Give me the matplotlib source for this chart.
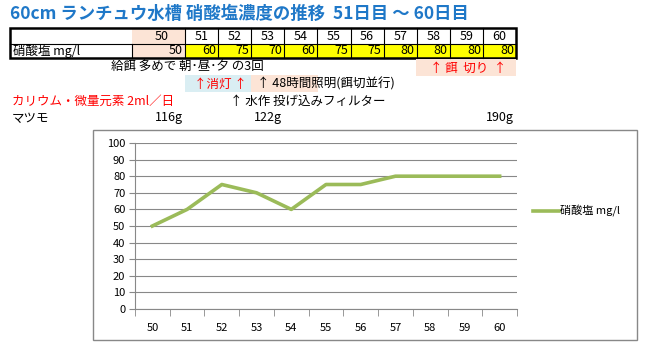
import matplotlib.pyplot as plt
from matplotlib.patches import Rectangle
from matplotlib.lines import Line2D

plt.rcParams['font.family'] = ['Noto Sans CJK JP', 'DejaVu Sans']

# data
days = [50, 51, 52, 53, 54, 55, 56, 57, 58, 59, 60]
nitrate = [50, 60, 75, 70, 60, 75, 75, 80, 80, 80, 80]
series_name = '硝酸塩 mg/l'
title = '60cm ランチュウ水槽 硝酸塩濃度の推移  51日目 ～ 60日目'
matsumo = {50: '116g', 53: '122g', 60: '190g'}

W, H = 653, 357
fig = plt.figure(figsize=(W / 100, H / 100), dpi=100)


def fx(x):
    return x / W


def fy(y):
    return 1 - y / H


def box(x0, y0, x1, y1, fc='none', ec='none', lw=0.8):
    fig.patches.append(Rectangle((fx(x0), fy(y1)), fx(x1) - fx(x0), fy(y0) - fy(y1),
                                 transform=fig.transFigure, fc=fc, ec=ec, lw=lw))


def txt(x, y, s, **kw):
    kw.setdefault('fontsize', 9)
    kw.setdefault('va', 'center')
    fig.text(fx(x), fy(y), s, **kw)


# title
txt(10, 14, title, fontsize=12.5, color='#1f78c8', fontweight='bold')

# table
peach = '#fce4d6'
col_x = [132, 185] + [185 + 33.1 * k for k in range(1, 11)]
top, mid, bot = 28, 44, 58
box(132, top, 185, bot, fc=peach)
for k in range(1, 11):
    box(col_x[k], mid, col_x[k + 1], bot, fc='#ffff00')
for k in range(1, 11):
    fig.lines.append(Line2D([fx(col_x[k])] * 2, [fy(top), fy(bot)], transform=fig.transFigure,
                            color='black', lw=0.8))
fig.lines.append(Line2D([fx(10), fx(col_x[-1])], [fy(mid)] * 2, transform=fig.transFigure,
                        color='black', lw=0.8))
fig.lines.append(Line2D([fx(132)] * 2, [fy(mid), fy(bot)], transform=fig.transFigure,
                        color='black', lw=0.8))
box(10, top, col_x[-1], bot, ec='black', lw=1.8)
for k, d in enumerate(days):
    if k == 0:
        txt(162, (top + mid) / 2, str(d), ha='center')
        txt(183, (mid + bot) / 2, str(nitrate[k]), ha='right')
    else:
        txt((col_x[k] + col_x[k + 1]) / 2, (top + mid) / 2, str(d), ha='center')
        txt(col_x[k + 1] - 2, (mid + bot) / 2, str(nitrate[k]), ha='right')
txt(13, (mid + bot) / 2, series_name)

# notes under table
txt(111, 67, '給餌 多めで 朝･昼･夕 の3回')
box(416, 59, 516, 76, fc=peach)
txt(468, 68, '↑ 餌  切り  ↑', ha='center', color='red')
box(185, 75, 251, 92, fc='#daeef3')
box(251, 75, 318, 92, fc=peach)
txt(194, 84, '↑消灯 ↑', color='red')
txt(257, 84, '↑ 48時間照明(餌切並行)')
txt(12, 101, 'カリウム・微量元素 2ml／日', color='red')
txt(230, 101, '↑ 水作 投げ込みフィルター')
txt(12, 118, 'マツモ')
for d, s in matsumo.items():
    k = days.index(d)
    txt(col_x[k + 1] - 2, 118, s, ha='right')

# chart frame
box(93, 130, 637, 340, ec='#888888', lw=1)

ax = fig.add_axes([fx(135), fy(309), fx(517) - fx(135), fy(143) - fy(309)])
x = list(range(len(days)))
ax.plot(x, nitrate, color='#9bbb59', lw=2.6, label=series_name)
ax.set_xlim(-0.5, len(days) - 0.5)
ax.set_ylim(0, 100)
ax.set_yticks(range(0, 101, 10))
ax.set_xticks(x)
ax.set_xticklabels([str(d) for d in days])
ax.set_xticks([i - 0.5 for i in range(len(days) + 1)], minor=True)
ax.tick_params(axis='x', which='major', length=0, pad=10, labelsize=8)
ax.tick_params(axis='x', which='minor', length=5, color='#888888', direction='out')
ax.tick_params(axis='y', length=4, color='#888888', labelsize=8, pad=3)
ax.grid(axis='y', color='#888888', lw=0.8)
ax.set_axisbelow(True)
for side in ['top', 'right']:
    ax.spines[side].set_visible(False)
ax.spines['left'].set_color('#888888')
ax.spines['bottom'].set_color('#888888')
ax.set_facecolor('none')

handles, labels = ax.get_legend_handles_labels()
fig.legend(handles, labels, loc='center left', bbox_to_anchor=(fx(523), fy(211)),
           frameon=False, fontsize=8, handlelength=2.3, handletextpad=0.1)

fig.savefig('out.png', dpi=100)
